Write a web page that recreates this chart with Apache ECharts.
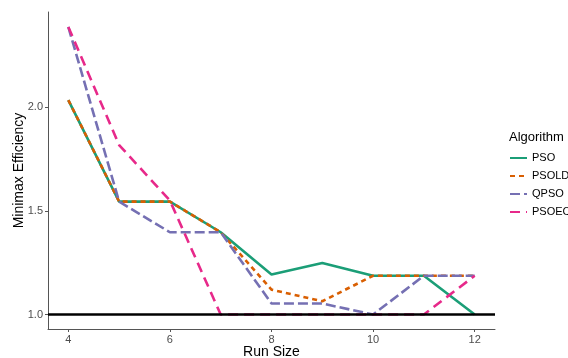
<!DOCTYPE html>
<html>
<head>
<meta charset="utf-8">
<script src="https://cdn.jsdelivr.net/npm/echarts@6/dist/echarts.min.js"></script>
<style>
  html, body { margin: 0; padding: 0; background: #fff; }
  #chart { width: 568px; height: 358px; }
</style>
</head>
<body>
<div id="chart"></div>
<script>
// run sizes and minimax efficiency per algorithm
var runSize = [4, 5, 6, 7, 8, 9, 10, 11, 12];
var pso   = [2.035, 1.545, 1.545, 1.397, 1.193, 1.249, 1.187, 1.187, 1.0];
var psold = [2.035, 1.545, 1.545, 1.397, 1.12, 1.064, 1.187, 1.187, 1.187];
var qpso  = [2.388, 1.545, 1.397, 1.397, 1.053, 1.053, 1.0, 1.187, 1.187];
var psoec = [2.388, 1.818, 1.55, 1.0, 1.0, 1.0, 1.0, 1.0, 1.187];
var xTicks = [4, 6, 8, 10, 12];
var yTicks = [1.0, 1.5, 2.0];

var names  = ['PSO', 'PSOLD', 'QPSO', 'PSOEC'];
var values = [pso, psold, qpso, psoec];
var colors = ['#1B9E77', '#D95F02', '#7570B3', '#E7298A'];
var dashes = ['solid', [5, 4], [10, 4], [10, 6]];

function pairs(ys) {
    return runSize.map(function (x, i) { return [x, ys[i]]; });
}

var series = names.map(function (n, i) {
    return {
        name: n,
        type: 'line',
        data: pairs(values[i]),
        symbol: 'none',
        z: 2 + i,
        lineStyle: { color: colors[i], width: 2.6, type: dashes[i] },
        itemStyle: { color: colors[i] }
    };
});
// reference line at 1
series[0].markLine = {
    silent: true,
    symbol: 'none',
    label: { show: false },
    lineStyle: { color: '#000', width: 2.6, type: 'solid' },
    data: [{ yAxis: 1 }]
};
series[0].markLine.z = 10;

var chart = echarts.init(document.getElementById('chart'));
chart.setOption({
    animation: false,
    backgroundColor: '#fff',
    title: {
        text: 'Algorithm',
        left: 509,
        top: 131,
        padding: 0,
        textStyle: { fontFamily: 'Liberation Sans', fontSize: 13, fontWeight: 'normal', color: '#000' }
    },
    legend: {
        orient: 'vertical',
        left: 509,
        top: 152,
        padding: 0,
        itemWidth: 17,
        itemHeight: 12,
        itemGap: 6,
        itemStyle: { opacity: 0 },
        textStyle: { fontFamily: 'Liberation Sans', fontSize: 11, color: '#000', height: 12, lineHeight: 12 },
        data: names
    },
    grid: { left: 48, right: 73, top: 12, bottom: 29, outerBoundsMode: 'none', containLabel: false },
    xAxis: {
        type: 'value',
        min: 3.6,
        max: 12.4,
        name: 'Run Size',
        nameLocation: 'middle',
        nameMoveOverlap: false,
        nameGap: 16,
        nameTextStyle: { fontFamily: 'Liberation Sans', fontSize: 14, color: '#000' },
        axisLine: { show: true, onZero: false, lineStyle: { color: '#555', width: 1 } },
        axisTick: { show: true, length: 3, customValues: xTicks, lineStyle: { color: '#555' } },
        axisLabel: { customValues: xTicks, fontFamily: 'Liberation Sans', fontSize: 11, color: '#4D4D4D', margin: 5 },
        splitLine: { show: false }
    },
    yAxis: {
        type: 'value',
        min: 0.93,
        max: 2.46,
        name: 'Minimax Efficiency',
        nameLocation: 'middle',
        nameMoveOverlap: false,
        nameGap: 22,
        nameTextStyle: { fontFamily: 'Liberation Sans', fontSize: 14, color: '#000' },
        axisLine: { show: true, onZero: false, lineStyle: { color: '#555', width: 1 } },
        axisTick: { show: true, length: 3, customValues: yTicks, lineStyle: { color: '#555' } },
        axisLabel: {
            customValues: yTicks,
            fontFamily: 'Liberation Sans', fontSize: 11, color: '#4D4D4D', margin: 5,
            formatter: function (v) { return v.toFixed(1); }
        },
        splitLine: { show: false }
    },
    series: series
});
</script>
</body>
</html>
